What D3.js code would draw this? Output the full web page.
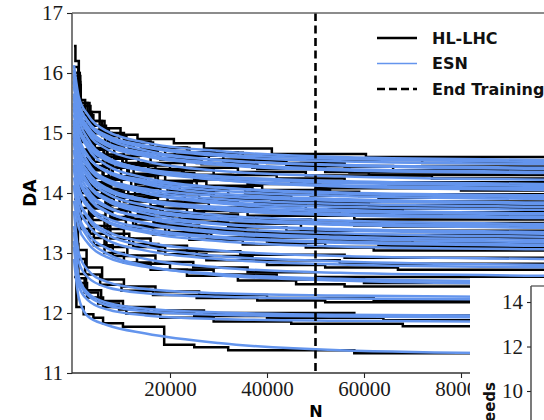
<!DOCTYPE html>
<html>
<head>
<meta charset="utf-8">
<script src="https://cdn.jsdelivr.net/npm/d3@7"></script>
<style>
  body { margin: 0; background: #fff; }
  svg { display: block; }
  .serif-tick text { font-family: "Liberation Serif", "DejaVu Serif", serif; font-size: 21px; fill: #1a1a1a; }
</style>
</head>
<body>
<svg id="chart" width="544" height="420"></svg>
<script>
// Evaluation points (number of turns N) at which each ESN prediction is sampled
const esnGridN = [200, 1200, 3000, 7000, 15000, 30000, 55000, 100000];

// ESN predicted dynamic aperture per seed, one row per seed, sampled at esnGridN
const esnCurves = [
  [16.13, 15.60, 15.31, 15.03, 14.84, 14.70, 14.60, 14.55],
  [15.95, 15.47, 15.20, 14.96, 14.79, 14.65, 14.57, 14.52],
  [15.98, 15.48, 15.20, 14.94, 14.76, 14.62, 14.53, 14.48],
  [15.77, 15.32, 15.07, 14.83, 14.67, 14.55, 14.47, 14.42],
  [16.05, 15.50, 15.19, 14.91, 14.71, 14.55, 14.46, 14.40],
  [15.93, 15.40, 15.11, 14.83, 14.64, 14.50, 14.40, 14.35],
  [15.83, 15.33, 15.05, 14.79, 14.61, 14.47, 14.38, 14.33],
  [15.87, 15.32, 15.01, 14.73, 14.53, 14.37, 14.28, 14.22],
  [15.50, 15.05, 14.80, 14.56, 14.40, 14.28, 14.20, 14.15],
  [15.62, 15.12, 14.84, 14.58, 14.40, 14.26, 14.17, 14.12],
  [15.58, 15.08, 14.80, 14.54, 14.36, 14.22, 14.13, 14.08],
  [15.85, 15.25, 14.91, 14.60, 14.39, 14.22, 14.11, 14.05],
  [15.31, 14.86, 14.61, 14.37, 14.21, 14.09, 14.01, 13.96],
  [15.66, 15.08, 14.76, 14.46, 14.25, 14.09, 13.99, 13.93],
  [15.40, 14.90, 14.62, 14.36, 14.18, 14.04, 13.95, 13.90],
  [15.49, 14.94, 14.63, 14.35, 14.15, 13.99, 13.90, 13.84],
  [15.17, 14.72, 14.47, 14.23, 14.07, 13.95, 13.87, 13.82],
  [15.20, 14.72, 14.45, 14.21, 14.04, 13.90, 13.82, 13.77],
  [15.22, 14.72, 14.44, 14.18, 14.00, 13.86, 13.77, 13.72],
  [15.46, 14.86, 14.52, 14.21, 14.00, 13.83, 13.72, 13.66],
  [14.99, 14.54, 14.29, 14.05, 13.89, 13.77, 13.69, 13.64],
  [15.18, 14.65, 14.36, 14.08, 13.89, 13.75, 13.65, 13.60],
  [15.08, 14.58, 14.30, 14.04, 13.86, 13.72, 13.63, 13.58],
  [15.13, 14.58, 14.27, 13.99, 13.79, 13.63, 13.54, 13.48],
  [14.95, 14.45, 14.17, 13.91, 13.73, 13.59, 13.50, 13.45],
  [14.92, 14.42, 14.14, 13.88, 13.70, 13.56, 13.47, 13.42],
  [14.70, 14.25, 14.00, 13.76, 13.60, 13.48, 13.40, 13.35],
  [15.12, 14.52, 14.18, 13.87, 13.66, 13.49, 13.38, 13.32],
  [14.92, 14.37, 14.06, 13.78, 13.58, 13.42, 13.33, 13.27],
  [14.72, 14.22, 13.94, 13.68, 13.50, 13.36, 13.27, 13.22],
  [14.83, 14.28, 13.97, 13.69, 13.49, 13.33, 13.24, 13.18],
  [14.57, 14.09, 13.82, 13.58, 13.41, 13.27, 13.19, 13.14],
  [14.47, 14.02, 13.77, 13.53, 13.37, 13.25, 13.17, 13.12],
  [14.56, 14.06, 13.78, 13.52, 13.34, 13.20, 13.11, 13.06],
  [14.40, 13.90, 13.62, 13.36, 13.18, 13.04, 12.95, 12.90],
  [14.45, 13.90, 13.59, 13.31, 13.11, 12.95, 12.86, 12.80],
  [14.26, 13.76, 13.48, 13.22, 13.04, 12.90, 12.81, 12.76],
  [14.12, 13.62, 13.34, 13.08, 12.90, 12.76, 12.67, 12.62],
  [13.87, 13.42, 13.17, 12.93, 12.77, 12.65, 12.57, 12.52],
  [14.13, 13.58, 13.27, 12.99, 12.79, 12.63, 12.54, 12.48],
  [13.70, 13.00, 12.72, 12.52, 12.40, 12.33, 12.29, 12.26],
  [13.45, 12.85, 12.60, 12.43, 12.33, 12.27, 12.24, 12.22],
  [13.35, 12.60, 12.34, 12.17, 12.07, 12.01, 11.97, 11.95],
  [13.20, 12.55, 12.30, 12.13, 12.03, 11.97, 11.94, 11.92],
  [13.10, 12.45, 12.22, 12.06, 11.96, 11.90, 11.87, 11.85],
  [12.90, 12.25, 11.95, 11.80, 11.66, 11.50, 11.38, 11.32]
];

// HL-LHC tracked dynamic aperture per seed: [N, DA] points where the step value changes
const hlSteps = [
  [[200,16.45],[500,16.2],[1200,15.55],[2500,15.35],[5500,15.08],[9800,14.97],[13300,14.9],[20800,14.83],[27000,14.74],[41000,14.65],[60400,14.6]],
  [[200,16.0],[1300,15.5],[3400,15.2],[6500,15.0],[10500,14.86],[16000,14.76],[23500,14.68],[34000,14.62],[50000,14.57],[78000,14.54]],
  [[200,16.0],[1400,15.45],[3600,15.12],[6800,14.95],[11000,14.84],[16500,14.75],[24000,14.67],[35000,14.6],[47000,14.55],[72000,14.5]],
  [[200,15.8],[1600,15.3],[4200,15.0],[8000,14.82],[12500,14.72],[19000,14.64],[28000,14.56],[40000,14.5],[56000,14.44]],
  [[200,16.1],[1100,15.5],[3000,15.2],[6000,14.95],[9500,14.82],[14000,14.72],[21000,14.62],[31000,14.53],[44000,14.45],[66000,14.38]],
  [[200,15.95],[1500,15.35],[3900,15.05],[7400,14.82],[12000,14.66],[18000,14.56],[26500,14.48],[38000,14.4],[57000,14.34]],
  [[200,15.85],[1500,15.3],[3800,15.02],[7200,14.8],[11500,14.68],[17500,14.58],[25500,14.5],[37000,14.42],[52000,14.35],[61000,14.3]],
  [[200,15.9],[1300,15.3],[3400,15.0],[6600,14.76],[10500,14.62],[16000,14.5],[23000,14.42],[34000,14.35],[48000,14.29],[74000,14.24]],
  [[200,15.55],[1700,15.02],[4500,14.75],[8500,14.57],[13500,14.46],[20000,14.38],[29000,14.3],[42000,14.24],[56000,14.18]],
  [[200,15.65],[1200,15.15],[3200,14.86],[6300,14.64],[10200,14.5],[15500,14.4],[22800,14.3],[33000,14.22],[47000,14.18],[65000,14.14]],
  [[200,15.6],[1200,15.1],[3300,14.82],[6400,14.6],[10200,14.47],[15500,14.38],[22500,14.3],[32500,14.22],[45000,14.16],[51000,14.1]],
  [[200,15.9],[1400,15.2],[3700,14.85],[7000,14.6],[11000,14.45],[17000,14.33],[25000,14.23],[36000,14.15],[50000,14.08],[80000,14.04]],
  [[200,15.35],[1500,14.85],[4000,14.6],[7800,14.42],[12500,14.3],[19000,14.2],[27500,14.12],[39000,14.05],[53000,13.98]],
  [[200,15.7],[1400,15.05],[3700,14.72],[7100,14.48],[11500,14.32],[17500,14.2],[25500,14.1],[37000,14.02],[59000,13.95]],
  [[200,15.45],[1300,14.92],[3500,14.63],[6900,14.42],[11200,14.28],[17000,14.17],[24500,14.08],[35500,14.01],[49000,13.96],[63000,13.92]],
  [[200,15.5],[1100,14.98],[3100,14.65],[6200,14.42],[9900,14.26],[15000,14.14],[22000,14.04],[32000,13.96],[45000,13.86]],
  [[200,15.2],[1600,14.72],[4300,14.45],[8200,14.28],[13200,14.15],[20000,14.04],[29000,13.95],[41000,13.87],[50500,13.8]],
  [[200,15.25],[1600,14.7],[4200,14.42],[8000,14.23],[12900,14.1],[19500,13.99],[28500,13.9],[41000,13.83],[61000,13.78]],
  [[200,15.25],[1400,14.72],[3800,14.42],[7400,14.22],[12000,14.08],[18000,13.98],[26000,13.9],[37500,13.83],[57000,13.74]],
  [[200,15.5],[1200,14.88],[3200,14.52],[6300,14.26],[10000,14.1],[15500,13.97],[23000,13.87],[34000,13.79],[48000,13.73],[68000,13.68]],
  [[200,15.0],[1500,14.52],[4100,14.25],[7900,14.07],[12800,13.94],[19500,13.84],[28000,13.76],[40000,13.69],[55000,13.65],[76000,13.62]],
  [[200,15.2],[1100,14.7],[3100,14.38],[6100,14.14],[9900,13.98],[15200,13.86],[22400,13.76],[32500,13.69],[46000,13.65],[72000,13.62]],
  [[200,15.1],[1300,14.58],[3600,14.28],[7000,14.06],[11400,13.92],[17500,13.8],[25000,13.7],[36000,13.62],[58000,13.56]],
  [[200,15.15],[1200,14.58],[3300,14.26],[6500,14.02],[10500,13.86],[16000,13.74],[23500,13.64],[34000,13.56],[49000,13.5]],
  [[200,15.0],[1400,14.45],[3800,14.15],[7300,13.93],[11800,13.78],[18000,13.66],[26000,13.57],[38000,13.5],[58000,13.46]],
  [[200,14.95],[1500,14.42],[4000,14.12],[7600,13.92],[12300,13.78],[18500,13.67],[27000,13.58],[39000,13.5],[64000,13.44]],
  [[200,14.75],[1700,14.25],[4500,13.98],[8400,13.8],[13400,13.67],[20500,13.57],[30000,13.49],[47000,13.37]],
  [[200,15.15],[1100,14.55],[3000,14.18],[6000,13.92],[9600,13.75],[14800,13.62],[22000,13.52],[32000,13.43],[44000,13.36],[54000,13.3]],
  [[200,14.95],[1300,14.38],[3500,14.05],[6700,13.8],[10900,13.63],[16600,13.5],[24300,13.41],[35500,13.34],[53000,13.28]],
  [[200,14.75],[1400,14.22],[3800,13.92],[7300,13.71],[11800,13.57],[18000,13.46],[26000,13.38],[38000,13.31],[60000,13.24]],
  [[200,14.85],[1300,14.28],[3500,13.95],[6800,13.72],[11000,13.56],[16800,13.44],[24500,13.34],[35500,13.26],[50000,13.21],[70000,13.17]],
  [[200,14.6],[1500,14.08],[4000,13.8],[7700,13.6],[12400,13.46],[19000,13.35],[27600,13.26],[40000,13.19],[63000,13.13]],
  [[200,14.5],[1600,14.0],[4200,13.74],[8100,13.56],[13000,13.43],[19800,13.33],[28500,13.25],[40500,13.17],[52000,13.1]],
  [[200,14.6],[1200,14.08],[3400,13.78],[6700,13.57],[10900,13.42],[16500,13.31],[24000,13.22],[35000,13.14],[48000,13.09],[62000,13.04]],
  [[200,14.45],[1200,13.92],[3300,13.62],[6500,13.4],[10500,13.24],[16000,13.12],[23500,13.03],[34500,12.97],[56000,12.92]],
  [[200,14.5],[1400,13.88],[3700,13.55],[7100,13.32],[11600,13.15],[17600,13.04],[25500,12.95],[37000,12.88],[55000,12.82]],
  [[200,14.3],[1500,13.75],[4000,13.45],[7700,13.24],[12400,13.1],[19000,12.98],[27500,12.88],[40000,12.8],[52000,12.76],[67000,12.72]],
  [[200,14.15],[1300,13.62],[3500,13.32],[6900,13.1],[11200,12.96],[17000,12.85],[24800,12.76],[36000,12.68],[50000,12.6]],
  [[200,13.9],[1600,13.4],[4300,13.13],[8200,12.95],[13200,12.82],[20000,12.72],[29000,12.64],[42000,12.56],[60000,12.5]],
  [[200,14.15],[1200,13.58],[3300,13.25],[6500,13.0],[10500,12.84],[16000,12.72],[23500,12.62],[34000,12.54],[46000,12.48],[56000,12.44]],
  [[200,13.75],[1000,13.05],[2800,12.76],[6000,12.56],[10500,12.44],[17000,12.36],[26000,12.3],[40000,12.25],[62000,12.2]],
  [[200,13.5],[900,12.9],[2500,12.64],[5600,12.47],[10000,12.37],[16500,12.3],[25500,12.25],[38000,12.21],[52000,12.18]],
  [[200,13.4],[1000,12.65],[2700,12.38],[5800,12.2],[10300,12.1],[16800,12.04],[27000,12.0],[58000,11.96]],
  [[200,13.25],[900,12.58],[2400,12.34],[5200,12.16],[9500,12.06],[15500,12.0],[25000,11.95],[40000,11.92],[64000,11.88]],
  [[200,13.15],[1100,12.5],[2900,12.26],[6200,12.1],[11000,11.99],[18000,11.92],[29000,11.86],[45000,11.82],[68000,11.78]],
  [[200,12.6],[700,12.1],[2200,11.98],[4200,11.92],[6200,11.83],[10300,11.77],[18800,11.47],[25000,11.43],[32000,11.38],[58000,11.33]]
];

const xTickValues = [20000, 40000, 60000, 80000];
const yTickValues = [11, 12, 13, 14, 15, 16, 17];
const endTrainingN = 50000;
const legendLabels = ["HL-LHC", "ESN", "End Training"];
const insetTickValues = [10, 12, 14];

const colors = { hl: "#000000", esn: "#6495ED" };
const svg = d3.select("#chart");

// Scales of the main panel
const x = d3.scaleLinear().domain([0, 100000]).range([73, 558]);
const y = d3.scaleLinear().domain([11, 17]).range([373, 13]);
const nMax = x.domain()[1];

svg.append("defs").append("clipPath").attr("id", "plot-clip")
  .append("rect").attr("x", 72).attr("y", 13).attr("width", 480).attr("height", 360);

const lines = svg.append("g").attr("clip-path", "url(#plot-clip)");

const stepLine = d3.line().x(d => x(d[0])).y(d => y(d[1])).curve(d3.curveStepAfter);
const smoothLine = d3.line().x(d => x(d[0])).y(d => y(d[1])).curve(d3.curveMonotoneX);

// Tracked staircases underneath, ESN predictions on top
lines.append("g").selectAll("path").data(hlSteps).join("path")
  .attr("d", steps => stepLine(steps.concat([[nMax, steps[steps.length - 1][1]]])))
  .attr("fill", "none").attr("stroke", colors.hl).attr("stroke-width", 2.5);
lines.append("g").selectAll("path").data(esnCurves).join("path")
  .attr("d", row => smoothLine(esnGridN.map((n, j) => [n, row[j]])))
  .attr("fill", "none").attr("stroke", colors.esn).attr("stroke-width", 2.5);

// End of training marker
svg.append("line")
  .attr("x1", x(endTrainingN)).attr("x2", x(endTrainingN))
  .attr("y1", y(17)).attr("y2", y(11))
  .attr("stroke", "#000").attr("stroke-width", 2.6).attr("stroke-dasharray", "8,4.5");

// Axes
const yAxis = svg.append("g").attr("class", "serif-tick").attr("transform", "translate(72,0)")
  .call(d3.axisLeft(y).tickValues(yTickValues).tickFormat(d3.format("d")).tickSize(5).tickPadding(4));
const xAxis = svg.append("g").attr("class", "serif-tick").attr("transform", "translate(0,373)")
  .call(d3.axisBottom(x).tickValues(xTickValues).tickFormat(d3.format("d")).tickSize(5).tickPadding(3));
[yAxis, xAxis].forEach(g => {
  g.select(".domain").remove();
  g.selectAll(".tick line").attr("stroke", "#222").attr("stroke-width", 1.1);
});

// Spines
const spine = svg.append("g").attr("stroke", "#333").attr("stroke-width", 1.3);
spine.append("line").attr("x1", 72).attr("x2", 72).attr("y1", 13).attr("y2", 373.5);
spine.append("line").attr("x1", 72).attr("x2", 544).attr("y1", 373).attr("y2", 373);
spine.append("line").attr("x1", 72).attr("x2", 544).attr("y1", 13).attr("y2", 13).attr("stroke", "#666");

// Axis titles
const labelFont = "'DejaVu Sans', sans-serif";
svg.append("text").attr("transform", "translate(36,193) rotate(-90)")
  .attr("text-anchor", "middle").attr("font-family", labelFont).attr("font-weight", "bold")
  .attr("font-size", 17).text("DA");
svg.append("text").attr("x", 316).attr("y", 416.5)
  .attr("text-anchor", "middle").attr("font-family", labelFont).attr("font-weight", "bold")
  .attr("font-size", 16).text("N");

// Legend
const legend = svg.append("g").attr("transform", "translate(377,38)");
legendLabels.forEach((label, i) => {
  const row = legend.append("g").attr("transform", `translate(0,${i * 25.5})`);
  const ln = row.append("line").attr("x1", 0).attr("x2", 40).attr("y1", 0).attr("y2", 0);
  if (i === 0) ln.attr("stroke", colors.hl).attr("stroke-width", 2.6);
  if (i === 1) ln.attr("stroke", colors.esn).attr("stroke-width", 1.6);
  if (i === 2) ln.attr("stroke", "#000").attr("stroke-width", 2.6).attr("stroke-dasharray", "8,4");
  row.append("text").attr("x", 55).attr("y", 0).attr("dy", "0.36em")
    .attr("font-family", labelFont).attr("font-weight", "bold").attr("font-size", 16)
    .attr("fill", "#111").text(label);
});

// Neighbouring panel: seed distribution
const inset = svg.append("g");
inset.append("rect").attr("x", 470).attr("y", 278).attr("width", 80).attr("height", 150).attr("fill", "#fff");
const yInset = d3.scaleLinear().domain([8, 14.72]).range([435.5, 286]);
const insetAxis = inset.append("g").attr("class", "serif-tick").attr("transform", "translate(531,0)")
  .call(d3.axisLeft(yInset).tickValues(insetTickValues).tickFormat(d3.format("d")).tickSize(4).tickPadding(4));
insetAxis.select(".domain").remove();
insetAxis.selectAll(".tick line").attr("stroke", "#222").attr("stroke-width", 1.1);
inset.append("line").attr("x1", 531).attr("x2", 531).attr("y1", 286).attr("y2", 420)
  .attr("stroke", "#333").attr("stroke-width", 1.3);
inset.append("line").attr("x1", 531).attr("x2", 544).attr("y1", 286).attr("y2", 286)
  .attr("stroke", "#555").attr("stroke-width", 1.3);
inset.append("text").attr("transform", "translate(495,382) rotate(-90)")
  .attr("text-anchor", "end").attr("font-family", labelFont).attr("font-weight", "bold")
  .attr("font-size", 15).attr("fill", "#111").text("Seeds");
</script>
</body>
</html>
